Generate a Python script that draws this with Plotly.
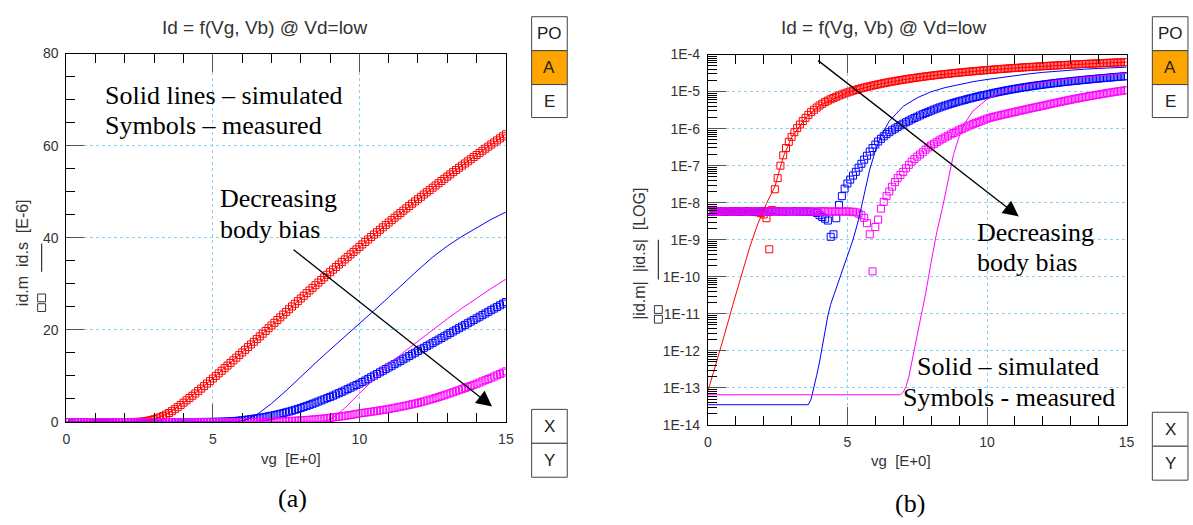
import numpy as np
import plotly.graph_objects as go

W, H = 1193, 525

# ---------------------------------------------------------------------------
# Measured drain current (uA, signed) - gate sweep 0 .. 15 V, 0.1 V step
# ---------------------------------------------------------------------------
vg_meas = np.linspace(0.0, 15.0, 151)

id_meas_red = [
    -0.0058, -0.0059, -0.0058, -0.0057, -0.0058, -0.0059, -0.0058, -0.0058, -0.0057, -0.0058,
    -0.0059, -0.0058, -0.0058, -0.0057, -0.0058, -0.0058, -0.0057, -0.0056, -0.0055, -0.0052,
    -0.0048, -0.0038, -0.00055, 0.0063, 0.023, 0.046, 0.10, 0.19, 0.30, 0.44,
    0.60, 0.80, 1.03, 1.29, 1.60, 1.95, 2.35, 2.78, 3.22, 3.70,
    4.20, 4.70, 5.20, 5.70, 6.20, 6.72, 7.25, 7.79, 8.33, 8.88,
    9.44, 10.00, 10.56, 11.12, 11.68, 12.25, 12.82, 13.39, 13.96, 14.53,
    15.10, 15.68, 16.26, 16.84, 17.42, 18.00, 18.59, 19.18, 19.77, 20.36,
    20.95, 21.54, 22.13, 22.72, 23.31, 23.90, 24.49, 25.08, 25.66, 26.24,
    26.82, 27.40, 27.98, 28.56, 29.13, 29.70, 30.27, 30.84, 31.41, 31.97,
    32.53, 33.09, 33.65, 34.20, 34.75, 35.30, 35.85, 36.40, 36.94, 37.48,
    38.02, 38.56, 39.10, 39.63, 40.16, 40.69, 41.22, 41.75, 42.27, 42.79,
    43.31, 43.83, 44.35, 44.86, 45.37, 45.88, 46.39, 46.90, 47.40, 47.90,
    48.40, 48.90, 49.40, 49.89, 50.38, 50.87, 51.36, 51.85, 52.33, 52.81,
    53.29, 53.77, 54.25, 54.72, 55.19, 55.66, 56.13, 56.60, 57.06, 57.52,
    57.98, 58.44, 58.90, 59.35, 59.80, 60.25, 60.70, 61.15, 61.59, 62.03,
    62.47,
]

id_meas_blue = [
    -0.0058, -0.0057, -0.0058, -0.0059, -0.0058, -0.0058, -0.0057, -0.0058, -0.0059, -0.0058,
    -0.0058, -0.0057, -0.0058, -0.0058, -0.0059, -0.0058, -0.0057, -0.0058, -0.0058, -0.0059,
    -0.0058, -0.0058, -0.0057, -0.0058, -0.0059, -0.0058, -0.0058, -0.0057, -0.0058, -0.0058,
    -0.0059, -0.0058, -0.0058, -0.0057, -0.0058, -0.0058, -0.0057, -0.0057, -0.0056, -0.0053,
    -0.0046, -0.0041, -0.0037, -0.0033, -0.0012, 0.0014, 0.0038, 0.0087, 0.015, 0.024,
    0.033, 0.042, 0.054, 0.068, 0.088, 0.112, 0.145, 0.185, 0.24, 0.30,
    0.37, 0.45, 0.53, 0.62, 0.71, 0.80, 0.90, 1.00, 1.11, 1.23,
    1.36, 1.49, 1.63, 1.78, 1.94, 2.10, 2.27, 2.45, 2.64, 2.84,
    3.05, 3.27, 3.49, 3.72, 3.95, 4.19, 4.43, 4.68, 4.93, 5.18,
    5.44, 5.71, 5.98, 6.26, 6.55, 6.84, 7.14, 7.44, 7.74, 8.03,
    8.33, 8.67, 9.01, 9.36, 9.71, 10.07, 10.42, 10.78, 11.13, 11.49,
    11.85, 12.20, 12.56, 12.91, 13.27, 13.62, 13.98, 14.33, 14.69, 15.04,
    15.40, 15.76, 16.11, 16.47, 16.82, 17.18, 17.53, 17.89, 18.24, 18.60,
    18.95, 19.31, 19.66, 20.02, 20.37, 20.73, 21.08, 21.44, 21.79, 22.15,
    22.50, 22.86, 23.21, 23.57, 23.92, 24.28, 24.63, 24.99, 25.34, 25.70,
    26.05,
]

id_meas_magenta = [
    -0.0058, -0.0059, -0.0058, -0.0058, -0.0057, -0.0058, -0.0059, -0.0058, -0.0058, -0.0057,
    -0.0058, -0.0058, -0.0059, -0.0058, -0.0057, -0.0058, -0.0058, -0.0059, -0.0058, -0.0058,
    -0.0057, -0.0058, -0.0058, -0.0059, -0.0058, -0.0058, -0.0057, -0.0058, -0.0058, -0.0059,
    -0.0058, -0.0058, -0.0057, -0.0058, -0.0058, -0.0059, -0.0058, -0.0058, -0.0057, -0.0058,
    -0.0058, -0.0059, -0.0058, -0.0058, -0.0057, -0.0058, -0.0058, -0.0058, -0.0057, -0.0058,
    -0.0058, -0.0057, -0.0057, -0.0055, -0.0051, -0.0046, -0.0039, -0.0028, -0.0014, -0.00014,
    0.0022, 0.0035, 0.0069, 0.0105, 0.015, 0.020, 0.027, 0.036, 0.046, 0.056,
    0.068, 0.085, 0.105, 0.128, 0.150, 0.175, 0.200, 0.230, 0.270, 0.310,
    0.35, 0.39, 0.43, 0.48, 0.53, 0.58, 0.64, 0.70, 0.76, 0.83,
    0.90, 0.98, 1.06, 1.14, 1.23, 1.32, 1.42, 1.52, 1.63, 1.74,
    1.86, 1.95, 2.04, 2.13, 2.22, 2.31, 2.41, 2.51, 2.61, 2.71,
    2.82, 2.94, 3.06, 3.18, 3.31, 3.44, 3.57, 3.71, 3.85, 3.99,
    4.14, 4.31, 4.48, 4.66, 4.84, 5.03, 5.22, 5.41, 5.61, 5.81,
    6.02, 6.24, 6.46, 6.68, 6.90, 7.13, 7.36, 7.59, 7.82, 8.06,
    8.30, 8.56, 8.82, 9.08, 9.34, 9.61, 9.88, 10.15, 10.43, 10.71,
    11.00,
]

# ---------------------------------------------------------------------------
# Simulated drain current (uA)
# ---------------------------------------------------------------------------
vg_sim_red = [0.0, 0.3, 0.6, 0.9, 1.2, 1.5, 1.8, 2.1, 2.4, 2.7, 3.0, 3.5, 4.0,
              5.0, 6.0, 7.0, 8.0, 9.0, 10.0, 11.0, 12.0, 13.0, 14.0, 15.0]
id_sim_red = [8e-8, 4.5e-7, 2.8e-6, 1.8e-5, 1.1e-4, 6.3e-4, 2.8e-3, 0.0095, 0.027, 0.17,
              0.58, 1.95, 4.2, 9.45, 15.1, 20.9, 26.8, 32.5, 38.0, 43.3, 48.4, 53.3,
              58.0, 62.5]

vg_sim_blue = [0.0, 3.6, 3.7, 3.8, 3.9, 4.0, 4.1, 4.2, 4.3, 4.4, 4.6, 4.8, 5.0, 5.2,
               5.4, 5.6, 5.8, 6.0, 6.2, 6.5, 7.0, 7.5, 8.0, 8.5, 9.0, 9.5, 10.0,
               10.5, 11.0, 11.5, 12.0, 12.5, 13.0, 13.5, 14.0, 14.5, 15.0]
id_sim_blue = [3.5e-8, 3.5e-8, 5e-8, 1e-7, 2.2e-7, 5e-7, 1.4e-6, 4e-6, 8.9e-6, 1.8e-5,
               5e-5, 1.26e-4, 3.5e-4, 1e-3, 3.5e-3, 0.018, 0.079, 0.25, 0.63, 1.6,
               4.0, 6.8, 9.9, 12.8, 15.7, 18.5, 21.2, 24.2, 27.1, 30.1, 33.0, 35.8,
               38.2, 40.3, 42.2, 44.0, 45.6]

vg_sim_magenta = [0.0, 6.9, 7.0, 7.1, 7.2, 7.4, 7.6, 7.8, 8.0, 8.2, 8.4, 8.6, 8.8,
                  9.0, 9.2, 9.5, 10.0, 10.5, 11.0, 11.5, 12.0, 12.5, 13.0, 13.5,
                  14.0, 14.5, 15.0]
id_sim_magenta = [6.5e-8, 6.5e-8, 7.6e-8, 1.1e-7, 2e-7, 1.1e-6, 6.3e-6, 3.5e-5, 2.5e-4,
                  1.6e-3, 7e-3, 0.04, 0.2, 0.6, 1.4, 3.0, 6.2, 9.4, 12.4, 15.1, 17.6,
                  20.0, 22.4, 24.7, 26.9, 29.0, 31.0]

series_colors = ["#ff0000", "#0000ff", "#ff00ff"]

# axis ticks
lin_x_ticks = [0, 5, 10, 15]
lin_y_ticks = [0, 20, 40, 60, 80]
log_y_exponents = [-14, -13, -12, -11, -10, -9, -8, -7, -6, -5, -4]
log_y_ticks = [10.0 ** e for e in log_y_exponents]
log_y_labels = ["1E%d" % e for e in log_y_exponents]
log_y_minor = [k * 10.0 ** e for e in log_y_exponents[:-1] for k in range(2, 10)]

# ---------------------------------------------------------------------------
fig = go.Figure()

meas = [id_meas_red, id_meas_blue, id_meas_magenta]
sims = [(vg_sim_red, id_sim_red), (vg_sim_blue, id_sim_blue), (vg_sim_magenta, id_sim_magenta)]

for xa, ya, to_amps in (("x", "y", False), ("x2", "y2", True)):
    for vals, col in zip(meas, series_colors):
        v = np.asarray(vals, dtype=float)
        yv = np.abs(v) * 1e-6 if to_amps else v
        fig.add_trace(go.Scatter(
            x=vg_meas, y=yv, mode="markers", xaxis=xa, yaxis=ya,
            marker=dict(symbol="square-open", size=7, color=col, line=dict(width=1)),
            hoverinfo="skip"))
    for (xs, vals), col in zip(sims, series_colors):
        v = np.asarray(vals, dtype=float)
        yv = v * 1e-6 if to_amps else v
        fig.add_trace(go.Scatter(
            x=xs, y=yv, mode="lines", xaxis=xa, yaxis=ya,
            line=dict(color=col, width=1), hoverinfo="skip"))

tick_font = dict(family="Liberation Sans, Arial, sans-serif", size=14, color="#333333")
grid_col = "#8ccff2"

common_x = dict(
    range=[0, 15], tickvals=lin_x_ticks, showline=True, linecolor="black", linewidth=1,
    mirror="ticks", ticks="inside", ticklen=18, tickwidth=1, tickcolor="#555555",
    minor=dict(ticks="inside", ticklen=9, tickwidth=1, tickcolor="black", dtick=1,
               showgrid=False),
    showgrid=True, gridcolor=grid_col, griddash="dot", gridwidth=1, zeroline=False,
    tickfont=tick_font, ticklabelstandoff=4, fixedrange=True,
)

fig.update_layout(
    width=W, height=H, margin=dict(l=0, r=0, t=0, b=0),
    paper_bgcolor="white", plot_bgcolor="white", showlegend=False,
    xaxis=dict(domain=[63 / W, 507 / W], anchor="y", **common_x),
    yaxis=dict(domain=[1 - 427 / H, 1 - 47 / H], anchor="x", range=[0, 80],
               tickvals=lin_y_ticks, showline=True, linecolor="black", linewidth=1,
               mirror=True, ticks="inside", ticklen=18, tickwidth=1, tickcolor="#555555",
               minor=dict(ticks="inside", ticklen=9, tickwidth=1, tickcolor="black",
                          dtick=5, showgrid=False),
               showgrid=True, gridcolor=grid_col, griddash="dot", gridwidth=1,
               zeroline=False, tickfont=tick_font, ticklabelstandoff=4),
    xaxis2=dict(domain=[711 / W, 1134 / W], anchor="y2", **common_x),
    yaxis2=dict(domain=[1 - 430 / H, 1 - 48 / H], anchor="x2", type="log",
                range=[-14, -4], tickvals=log_y_ticks, ticktext=log_y_labels,
                showline=True, linecolor="black", linewidth=1, mirror=True,
                ticks="inside", ticklen=18, tickwidth=1, tickcolor="#555555",
                minor=dict(ticks="inside", ticklen=9, tickwidth=1, tickcolor="black",
                           tickmode="array", tickvals=log_y_minor, showgrid=False),
                showgrid=True, gridcolor=grid_col, griddash="dot", gridwidth=1,
                zeroline=False, tickfont=tick_font, ticklabelstandoff=4),
)


def px(x, y):
    return x / W, 1 - y / H


sans = "Liberation Sans, Arial, sans-serif"
serif = "Liberation Serif, Times New Roman, serif"
anns = []
shapes = []


def text(x, y, s, size, family=sans, color="#333333", angle=0, xanchor="center"):
    xp, yp = px(x, y)
    anns.append(dict(x=xp, y=yp, xref="paper", yref="paper", text=s, showarrow=False,
                     xanchor=xanchor, yanchor="middle", textangle=angle,
                     font=dict(family=family, size=size, color=color)))


def arrow(x0, y0, x1, y1):
    xp, yp = px(x1, y1)
    anns.append(dict(x=xp, y=yp, xref="paper", yref="paper", text="", showarrow=True,
                     ax=x0 - x1, ay=y0 - y1, axref="pixel", ayref="pixel",
                     arrowhead=2, arrowsize=2.4, arrowwidth=1.3, arrowcolor="black"))


def rect(x0, y0, x1, y1, fill="rgba(0,0,0,0)", color="#444444"):
    a0, b0 = px(x0, y0)
    a1, b1 = px(x1, y1)
    shapes.append(dict(type="rect", xref="paper", yref="paper", x0=a0, y0=b1, x1=a1, y1=b0,
                       line=dict(color=color, width=1), fillcolor=fill, layer="above"))


def vline(x, y0, y1):
    a, b0 = px(x, y0)
    _, b1 = px(x, y1)
    shapes.append(dict(type="line", xref="paper", yref="paper", x0=a, x1=a, y0=b0, y1=b1,
                       line=dict(color="#333333", width=1.2), layer="above"))


# panel titles
text(263, 20, "Id = f(Vg, Vb) @ Vd=low", 19)
text(888, 20, "Id = f(Vg, Vb) @ Vd=low", 19)

# axis titles with their legend glyphs (square = measured, line = simulated)
text(290, 465, "vg&nbsp;&nbsp;[E+0]", 15)
text(906, 467, "vg&nbsp;&nbsp;[E+0]", 15)
text(19, 252, "id.m&nbsp;&nbsp;id.s&nbsp;&nbsp;[E-6]", 16, angle=-90)
rect(34, 295, 42, 303, color="#333333")
rect(34, 305, 42, 313, color="#333333")
vline(38, 243, 272)
text(642, 254, "|id.m|&nbsp;&nbsp;|id.s|&nbsp;&nbsp;[LOG]", 16, angle=-90)
rect(657, 307, 665, 315, color="#333333")
rect(657, 317, 665, 325, color="#333333")
vline(661, 239, 280)

# panel letters
text(291, 506, "(a)", 26, family=serif, color="black")
text(915, 511, "(b)", 26, family=serif, color="black")

# in-plot notes
note = dict(family=serif, color="black", xanchor="left")
text(100, 90, "Solid lines – simulated", 26, **note)
text(100, 121, "Symbols – measured", 26, **note)
text(216, 197, "Decreasing", 26, **note)
text(216, 228, "body bias", 26, **note)
text(981, 232, "Decreasing", 26, **note)
text(981, 262, "body bias", 26, **note)
text(920, 370, "Solid – simulated", 26, **note)
text(906, 402, "Symbols - measured", 26, **note)

arrow(293, 253, 493, 411)
arrow(823, 58, 1025, 215)


# side button boxes
def box(x0, y0, x1, y1, label, fill="white"):
    rect(x0, y0, x1, y1, fill=fill)
    text((x0 + x1) / 2, (y0 + y1) / 2, label, 17, color="#222222")


for bx in (533, 1160):
    box(bx, 9, bx + 36, 44, "PO")
    box(bx, 44, bx + 36, 79, "A", fill="#ffa500")
    box(bx, 79, bx + 36, 113, "E")
for bx, by in ((533, 414), (1160, 417)):
    box(bx, by, bx + 36, by + 35, "X")
    box(bx, by + 35, bx + 36, by + 70, "Y")

fig.update_layout(annotations=anns, shapes=shapes)
fig.write_html("out.html",
               post_script="document.body.style.margin='0';"
                           "document.body.style.overflow='hidden';")
